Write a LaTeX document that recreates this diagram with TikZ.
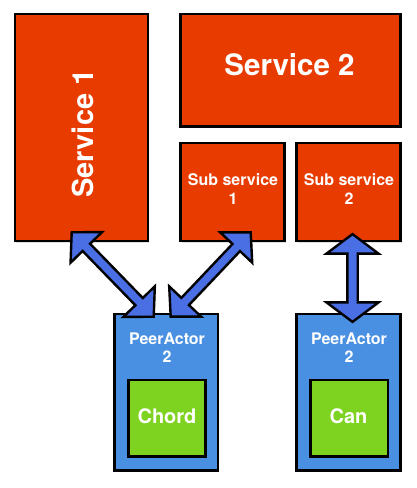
\documentclass[tikz,border=0pt]{standalone}
\usepackage{fontspec}
\setmainfont{TeX Gyre Heros}
\usetikzlibrary{calc,shadows}
\definecolor{svc}{RGB}{232,59,0}
\definecolor{peer}{RGB}{74,144,226}
\definecolor{algo}{RGB}{126,211,33}
\definecolor{arr}{RGB}{74,110,227}
% #1 name, #2 tip A, #3 tip B, #4 head length, #5 head half width
\newcommand\dbarrow[5]{%
  \coordinate (#1-ha) at ($(#2)!#4!(#3)$);
  \coordinate (#1-hb) at ($(#3)!#4!(#2)$);
  \draw[arrowshape] (#2) -- ($(#1-ha)!#5!90:(#3)$) -- ($(#1-ha)!5.2pt!90:(#3)$)
    -- ($(#1-hb)!5.2pt!-90:(#2)$) -- ($(#1-hb)!#5!-90:(#2)$) -- (#3)
    -- ($(#1-hb)!#5!90:(#2)$) -- ($(#1-hb)!5.2pt!90:(#2)$)
    -- ($(#1-ha)!5.2pt!-90:(#3)$) -- ($(#1-ha)!#5!-90:(#3)$) -- cycle;}
\tikzset{
  box/.style={draw=black, line width=2.6pt, inner sep=0pt,
    drop shadow={shadow xshift=1.2pt, shadow yshift=-1.5pt, opacity=0.25}},
  svcbox/.style={box, fill=svc},
  peerbox/.style={box, fill=peer},
  algobox/.style={box, fill=algo},
  lbl/.style={text=white, inner sep=0pt},
  arrowshape/.style={draw=black, fill=arr, line width=2.4pt, line join=miter,
    drop shadow={shadow xshift=1pt, shadow yshift=-1.2pt, opacity=0.2}},
}
\begin{document}
\begin{tikzpicture}[x=1pt, y=-1pt]
\useasboundingbox[fill=white] (0,0) rectangle (416,488);
% boxes
\node[svcbox, minimum width=133pt, minimum height=227pt] (s1) at (81.5,127.5) {};
\node[svcbox, minimum width=220pt, minimum height=112.5pt] (s2) at (290.5,70.25) {};
\node[svcbox, minimum width=104pt, minimum height=98pt] (sub1) at (232.5,192) {};
\node[svcbox, minimum width=104pt, minimum height=98pt] (sub2) at (348.5,192) {};
\node[peerbox, minimum width=103.5pt, minimum height=156.5pt] (pa1) at (166.25,392.25) {};
\node[peerbox, minimum width=104pt, minimum height=156.5pt] (pa2) at (348.5,392.25) {};
\node[algobox, minimum width=77pt, minimum height=76.5pt] (chord) at (167,418.25) {};
\node[algobox, minimum width=77.5pt, minimum height=76.5pt] (can) at (349.25,418.25) {};
% labels
\node[lbl, font=\bfseries\fontsize{29}{29}\selectfont, rotate=90, anchor=base] (s1t) at (93,133.5) {Service 1};
\node[lbl, font=\bfseries\fontsize{29.5}{29.5}\selectfont, anchor=base] (s2t) at (289.5,75) {Service 2};
\node[lbl, font=\bfseries\fontsize{16}{18.5}\selectfont, align=center] (sub1t) at (233,188.8) {Sub service\\1};
\node[lbl, font=\bfseries\fontsize{16}{18.5}\selectfont, align=center] (sub2t) at (349,188.8) {Sub service\\2};
\node[lbl, font=\bfseries\fontsize{16}{18.7}\selectfont, align=center] (pa1t) at (167,347.6) {PeerActor\\2};
\node[lbl, font=\bfseries\fontsize{16}{18.7}\selectfont, align=center] (pa2t) at (349,347.6) {PeerActor\\2};
\node[lbl, font=\bfseries\fontsize{20}{20}\selectfont, anchor=base] (chordt) at (167,423.3) {Chord};
\node[lbl, font=\bfseries\fontsize{20}{20}\selectfont, anchor=base] (cant) at (348.5,423.3) {Can};
% arrow ends
\coordinate (a1t) at ($(s1.south west)+(58,-10)$);
\coordinate (a1b) at ($(pa1.north west)+(40.5,4)$);
\coordinate (a2t) at ($(sub1.south west)+(71.5,-10)$);
\coordinate (a2b) at ($(pa1.north west)+(57.5,4)$);
\coordinate (a3t) at ($(sub2.south)+(4,-8.2)$);
\coordinate (a3b) at ($(pa2.north)+(4,9.2)$);
% arrows
\dbarrow{ar1}{a1t}{a1b}{21pt}{22pt}
\dbarrow{ar2}{a2t}{a2b}{21pt}{22pt}
\dbarrow{ar3}{a3t}{a3b}{19.5pt}{26pt}
\end{tikzpicture}
\end{document}
